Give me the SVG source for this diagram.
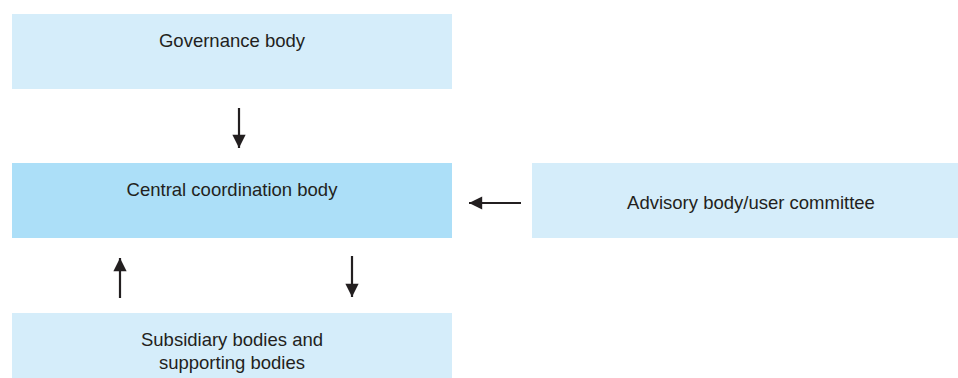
<svg xmlns="http://www.w3.org/2000/svg" width="958" height="378" viewBox="0 0 958 378">
<style>
.box{fill:#d5edfa}
.main{fill:#acdff8}
.t{font-family:"Liberation Sans",Arial,sans-serif;font-size:18.5px;fill:#231f20;text-anchor:middle}
.c{stroke:#231f20;stroke-width:2.2;fill:none;marker-end:url(#ah)}
</style>
<defs>
<marker id="ah" viewBox="0 0 10 10" refX="10" refY="5" markerWidth="8.5" markerHeight="6" markerUnits="strokeWidth" orient="auto">
<path d="M0,0 L10,5 L0,10 z" fill="#231f20"/>
</marker>
</defs>
<rect width="958" height="378" fill="#fff"/>
<g id="governance"><rect class="box" x="12" y="14" width="440" height="75"/><text class="t" x="232" y="47">Governance body</text></g>
<g id="central"><rect class="main" x="12" y="163" width="440" height="75"/><text class="t" x="232" y="196">Central coordination body</text></g>
<g id="advisory"><rect class="box" x="532" y="163" width="426" height="75"/><text class="t" x="751" y="209">Advisory body/user committee</text></g>
<g id="subsidiary"><rect class="box" x="12" y="313" width="440" height="65"/><text class="t" x="232" y="346">Subsidiary bodies and</text><text class="t" x="232" y="369">supporting bodies</text></g>
<g id="connectors">
<path class="c" d="M239,108 V148"/>
<path class="c" d="M521,203 H469"/>
<path class="c" d="M120,298 V258"/>
<path class="c" d="M352,256 V297"/>
</g>
</svg>
